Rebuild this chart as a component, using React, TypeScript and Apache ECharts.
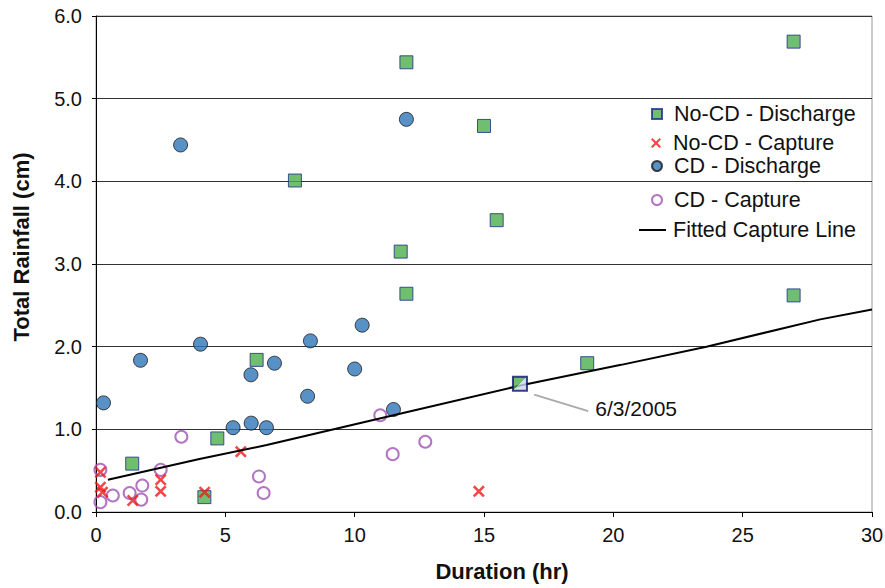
import React, { useEffect, useRef } from "react";
import * as echarts from "echarts";

// [duration (hr), total rainfall (cm)]
const noCdDischarge: number[][] = [
  [26.97, 5.69], [12.0, 5.44], [15.0, 4.67], [7.69, 4.01], [15.49, 3.53],
  [11.78, 3.15], [12.0, 2.64], [26.97, 2.62], [18.99, 1.8], [6.21, 1.84],
  [4.69, 0.89], [1.4, 0.585], [4.19, 0.18],
];
const highlighted: number[][] = [[16.39, 1.55]];
const noCdCapture: number[][] = [
  [0.17, 0.48], [0.17, 0.3], [0.25, 0.24], [1.42, 0.14], [2.5, 0.39],
  [2.5, 0.25], [4.2, 0.24], [5.6, 0.73], [14.8, 0.25],
];
const cdDischarge: number[][] = [
  [3.27, 4.44], [12.0, 4.75], [0.29, 1.32], [1.72, 1.835], [4.04, 2.03],
  [5.99, 1.66], [6.9, 1.8], [5.3, 1.02], [6.0, 1.075], [6.59, 1.02],
  [10.29, 2.26], [8.29, 2.07], [10.0, 1.73], [8.18, 1.4], [11.5, 1.24],
];
const cdCapture: number[][] = [
  [0.17, 0.51], [0.17, 0.12], [0.65, 0.2], [1.3, 0.23], [1.79, 0.32],
  [1.75, 0.15], [2.5, 0.51], [3.3, 0.91], [6.3, 0.43], [6.48, 0.23],
  [10.99, 1.17], [11.47, 0.7], [12.73, 0.85],
];
const fittedLine: number[][] = [
  [0.46, 0.39], [4.0, 0.64], [6.6, 0.81], [11.5, 1.17], [16.4, 1.53],
  [20.3, 1.78], [23.6, 2.0], [28.0, 2.33], [30, 2.45],
];
const annotationLine: number[][] = [[16.94, 1.42], [19.03, 1.22]];
const annotationText = "6/3/2005";
const annotationAnchor: number[] = [19.03, 1.25];

const legendNames = [
  "No-CD - Discharge",
  "No-CD - Capture",
  "CD - Discharge",
  "CD - Capture",
  "Fitted Capture Line",
];

const FONT = "'Liberation Sans', Arial, sans-serif";
const CROSS =
  "path://M0,1.5L1.5,0L5,3.5L8.5,0L10,1.5L6.5,5L10,8.5L8.5,10L5,6.5L1.5,10L0,8.5L3.5,5Z";

export default function App() {
  const ref = useRef<HTMLDivElement>(null);
  useEffect(() => {
    if (!ref.current) return;
    const chart = echarts.init(ref.current, null, { renderer: "svg" });
    const legendCenters = [114, 143, 166, 200, 230];
    const legends = legendNames.map((name, i) => {
      const isLine = i === 4;
      return {
        data: [name],
        left: isLine ? 638 : 651,
        top: legendCenters[i] - 11,
        padding: 0,
        itemWidth: isLine ? 27 : 10,
        itemHeight: isLine ? 2 : 10,
        textStyle: {
          fontSize: 21.5,
          fontFamily: FONT,
          color: "#111",
          padding: [0, 0, 0, isLine ? 2 : 7],
        },
        selectedMode: false,
      };
    });
    chart.setOption({
      animation: false,
      backgroundColor: "#fff",
      textStyle: { fontFamily: FONT },
      grid: {
        left: 96,
        right: 13,
        top: 16,
        bottom: 76,
        show: true,
        borderColor: "#999",
        borderWidth: 1,
        outerBoundsMode: "none",
        containLabel: false,
      },
      legend: legends,
      xAxis: {
        type: "value",
        min: 0,
        max: 30,
        interval: 5,
        name: "Duration (hr)",
        nameLocation: "middle",
        nameGap: 48,
        nameTextStyle: {
          fontSize: 22,
          fontWeight: "bold",
          color: "#111",
          fontFamily: FONT,
          padding: [0, 0, 0, 36],
        },
        axisLine: { lineStyle: { color: "#000", width: 1 } },
        axisTick: { show: true, length: 5, lineStyle: { color: "#000" } },
        axisLabel: { fontSize: 20, color: "#111", margin: 13, fontFamily: FONT },
        splitLine: { show: false },
      },
      yAxis: {
        type: "value",
        min: 0,
        max: 6,
        interval: 1,
        name: "Total Rainfall (cm)",
        nameLocation: "middle",
        nameGap: 64,
        nameTextStyle: {
          fontSize: 22,
          fontWeight: "bold",
          color: "#111",
          fontFamily: FONT,
          padding: [0, 0, 0, 34],
        },
        axisLine: { show: true, lineStyle: { color: "#000", width: 1 } },
        axisTick: { show: true, length: 4, lineStyle: { color: "#000" } },
        axisLabel: {
          fontSize: 20,
          color: "#111",
          margin: 14,
          fontFamily: FONT,
          formatter: (v: number) => v.toFixed(1),
        },
        splitLine: { show: true, lineStyle: { color: "#333", width: 1 } },
      },
      series: [
        {
          name: "No-CD - Discharge",
          type: "scatter",
          data: noCdDischarge,
          symbol: "rect",
          symbolSize: 13,
          itemStyle: { color: "#4cae4c", borderColor: "#1c2a8a", borderWidth: 1 },
          z: 2,
        },
        {
          name: "CD - Discharge",
          type: "scatter",
          data: cdDischarge,
          symbol: "circle",
          symbolSize: 14,
          itemStyle: { color: "#2e75b6", borderColor: "#1a1a1a", borderWidth: 1 },
          z: 3,
        },
        {
          name: "CD - Capture",
          type: "scatter",
          data: cdCapture,
          symbol: "circle",
          symbolSize: 12,
          itemStyle: { color: "rgba(255,255,255,0)", borderColor: "#a052b4", borderWidth: 2 },
          z: 4,
        },
        {
          name: "No-CD - Capture",
          type: "scatter",
          data: noCdCapture,
          symbol: CROSS,
          symbolSize: 12,
          itemStyle: { color: "#ee1c1c" },
          z: 5,
        },
        {
          name: "Fitted Capture Line",
          type: "line",
          data: fittedLine,
          showSymbol: false,
          symbol: "none",
          lineStyle: { color: "#000", width: 2 },
          itemStyle: { color: "#000" },
          z: 6,
        },
        {
          name: "highlight",
          type: "scatter",
          data: highlighted,
          symbol: "rect",
          symbolSize: 14,
          itemStyle: {
            color: new echarts.graphic.LinearGradient(0, 0, 1, 1, [
              { offset: 0, color: "#4cae4c" },
              { offset: 0.5, color: "#4cae4c" },
              { offset: 0.5, color: "#cdd9ef" },
              { offset: 1, color: "#cdd9ef" },
            ]),
            borderColor: "#0a1070",
            borderWidth: 2,
          },
          z: 7,
          markLine: {
            silent: true,
            symbol: "none",
            label: { show: false },
            lineStyle: { color: "#aaa", width: 2, type: "solid" },
            data: [[{ coord: annotationLine[0] }, { coord: annotationLine[1] }]],
          },
          markPoint: {
            silent: true,
            symbol: "circle",
            symbolSize: 0,
            itemStyle: { color: "rgba(0,0,0,0)" },
            label: {
              show: true,
              position: "right",
              distance: 7,
              formatter: annotationText,
              fontSize: 21,
              color: "#111",
              fontFamily: FONT,
            },
            data: [{ coord: annotationAnchor }],
          },
        },
      ],
    });
    return () => chart.dispose();
  }, []);
  return (
    <div
      ref={ref}
      style={{ position: "fixed", left: 0, top: 0, width: 885, height: 588 }}
    />
  );
}
